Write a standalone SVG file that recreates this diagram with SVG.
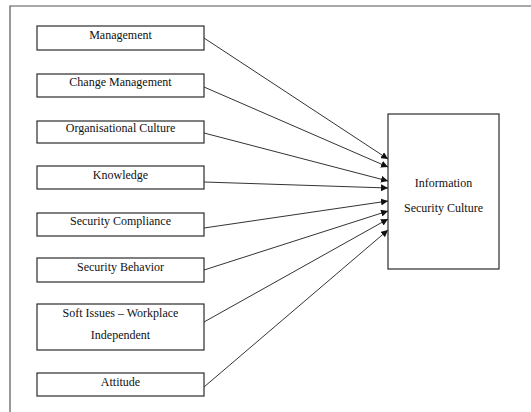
<svg xmlns="http://www.w3.org/2000/svg" width="531" height="412" viewBox="0 0 531 412">
  <style>
    .box { fill: #ffffff; stroke: #2b2b2b; stroke-width: 1.2; }
    .lbl { font-family: "Liberation Serif", "Times New Roman", serif; font-size: 12px; fill: #111; text-anchor: middle; }
    .edge { stroke: #333; stroke-width: 1; fill: none; marker-end: url(#arrow); }
    .frame { stroke: #555; stroke-width: 1.2; fill: none; }
  </style>
  <defs>
    <marker id="arrow" viewBox="0 0 10 10" refX="10" refY="5" markerWidth="7" markerHeight="7" markerUnits="userSpaceOnUse" orient="auto">
      <path d="M0,0 L10,5 L0,10 z" fill="#111"/>
    </marker>
  </defs>
  <rect width="531" height="412" fill="#ffffff"/>
  <!-- page frame -->
  <path class="frame" d="M10,412 L10,6 L531,6"/>

  <g id="management">
    <rect class="box" x="37" y="26" width="167" height="24"/>
    <text class="lbl" x="120.5" y="38.5">Management</text>
  </g>
  <g id="change-management">
    <rect class="box" x="37" y="74" width="167" height="23"/>
    <text class="lbl" x="120.5" y="85.5">Change Management</text>
  </g>
  <g id="organisational-culture">
    <rect class="box" x="37" y="121" width="167" height="22"/>
    <text class="lbl" x="120.5" y="131.5">Organisational Culture</text>
  </g>
  <g id="knowledge">
    <rect class="box" x="37" y="166" width="167" height="23"/>
    <text class="lbl" x="120.5" y="178.5">Knowledge</text>
  </g>
  <g id="security-compliance">
    <rect class="box" x="37" y="213" width="167" height="23"/>
    <text class="lbl" x="120.5" y="224.5">Security Compliance</text>
  </g>
  <g id="security-behavior">
    <rect class="box" x="37" y="258" width="167" height="24"/>
    <text class="lbl" x="120.5" y="270.5">Security Behavior</text>
  </g>
  <g id="soft-issues">
    <rect class="box" x="37" y="304" width="167" height="46"/>
    <text class="lbl" x="120.5" y="316.5">Soft Issues – Workplace</text>
    <text class="lbl" x="120.5" y="338.5">Independent</text>
  </g>
  <g id="attitude">
    <rect class="box" x="37" y="373" width="167" height="23"/>
    <text class="lbl" x="120.5" y="386">Attitude</text>
  </g>
  <g id="information-security-culture">
    <rect class="box" x="388" y="114" width="111" height="155"/>
    <text class="lbl" x="443.5" y="187">Information</text>
    <text class="lbl" x="443.5" y="211.5">Security Culture</text>
  </g>

  <g id="connectors">
    <line class="edge" x1="204" y1="38" x2="388" y2="159"/>
    <line class="edge" x1="204" y1="87" x2="388" y2="167"/>
    <line class="edge" x1="204" y1="133" x2="388" y2="181"/>
    <line class="edge" x1="204" y1="182" x2="388" y2="188"/>
    <line class="edge" x1="204" y1="228" x2="388" y2="201"/>
    <line class="edge" x1="204" y1="270" x2="388" y2="211"/>
    <line class="edge" x1="204" y1="322" x2="388" y2="219"/>
    <line class="edge" x1="204" y1="387" x2="388" y2="230"/>
  </g>
</svg>
